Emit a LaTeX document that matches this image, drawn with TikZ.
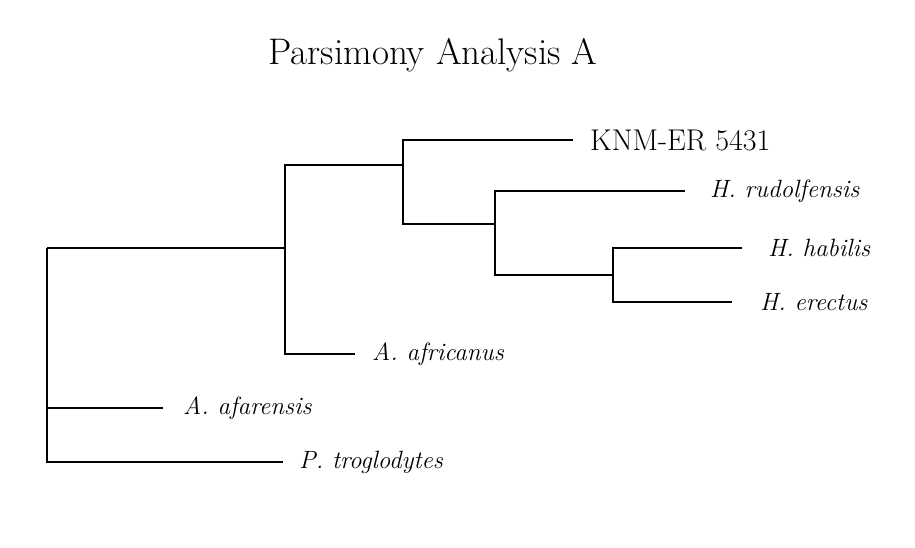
\documentclass[tikz,border=0pt]{standalone}
\usepackage{tikz}

\tikzset{
    branch/.style={black, line width=1.7pt},
    taxon/.style={anchor=west, inner sep=0pt, font=\fontsize{25}{25}\selectfont\itshape},
    specimen/.style={anchor=west, inner sep=0pt, font=\fontsize{30}{30}\selectfont},
}

\begin{document}
\begin{tikzpicture}[x=1pt, y=-1pt]
    \useasboundingbox (0,0) rectangle (915,548);
    % title
    \node (title) at (433,55) {\fontsize{37}{37}\selectfont Parsimony Analysis A};
    % inner nodes of the tree
    \coordinate (root) at (47,248);
    \coordinate (n1) at (285,248);
    \coordinate (n2) at (403,165);
    \coordinate (n3) at (495,224);
    \coordinate (n4) at (613,275);
    % tips
    \coordinate (tipKnm) at (573,140);
    \coordinate (tipRud) at (685,191);
    \coordinate (tipHab) at (742,248);
    \coordinate (tipEre) at (732,302);
    \coordinate (tipAfr) at (355,354);
    \coordinate (tipAfa) at (163,408);
    \coordinate (tipTro) at (283,462);
    % labels
    \node [specimen] (labKnm) at ([xshift=17pt]tipKnm) {KNM-ER 5431};
    \node [taxon] (labRud) at ([xshift=25pt]tipRud) {H. rudolfensis};
    \node [taxon] (labHab) at ([xshift=26pt]tipHab) {H. habilis};
    \node [taxon] (labEre) at ([xshift=28pt]tipEre) {H. erectus};
    \node [taxon] (labAfr) at ([xshift=17pt]tipAfr) {A. africanus};
    \node [taxon] (labAfa) at ([xshift=20pt]tipAfa) {A. afarensis};
    \node [taxon] (labTro) at ([xshift=16pt]tipTro) {P. troglodytes};
    % branches
    \draw [branch] (root) -- (n1);
    \draw [branch] (root) |- (tipAfa);
    \draw [branch] (root) |- (tipTro);
    \draw [branch] (n1) |- (n2);
    \draw [branch] (n1) |- (tipAfr);
    \draw [branch] (n2) |- (tipKnm);
    \draw [branch] (n2) |- (n3);
    \draw [branch] (n3) |- (tipRud);
    \draw [branch] (n3) |- (n4);
    \draw [branch] (n4) |- (tipHab);
    \draw [branch] (n4) |- (tipEre);
\end{tikzpicture}
\end{document}
